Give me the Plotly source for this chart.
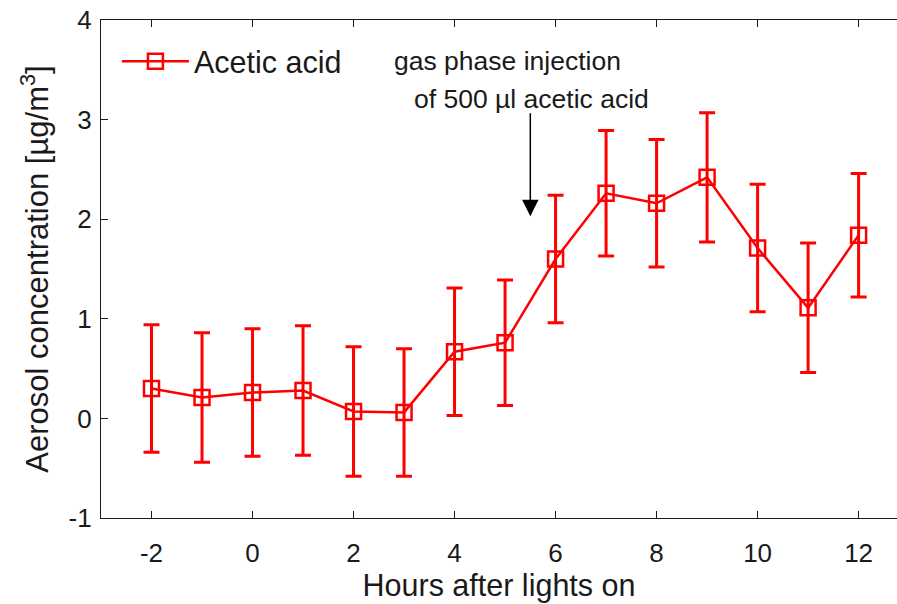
import plotly.graph_objects as go

# Hours after lights on and measured aerosol concentration (µg/m³)
hours = [-2, -1, 0, 1, 2, 3, 4, 5, 6, 7, 8, 9, 10, 11, 12]
acetic = [0.30, 0.21, 0.26, 0.28, 0.07, 0.06, 0.67, 0.76, 1.60, 2.26, 2.16, 2.42, 1.71, 1.11, 1.84]
acetic_err = [0.64, 0.65, 0.64, 0.65, 0.65, 0.64, 0.64, 0.63, 0.64, 0.63, 0.64, 0.65, 0.64, 0.65, 0.62]

x_ticks = [-2, 0, 2, 4, 6, 8, 10, 12]
x_ticktext = ["-2", "0", "2", "4", "6", "8", "10", "12"]
y_ticks = [-1, 0, 1, 2, 3, 4]
y_ticktext = ["-1", "0", "1", "2", "3", "4"]

injection_hour = 5.5

RED = "#ff0000"
INK = "#1a1a1a"
FONT = "Liberation Sans, Arial, sans-serif"

fig = go.Figure()
fig.add_trace(go.Scatter(
    x=hours, y=acetic,
    mode="lines+markers",
    name="Acetic acid",
    line=dict(color=RED, width=2.5),
    marker=dict(symbol="square-open", size=15, color=RED, line=dict(width=2.5, color=RED)),
    error_y=dict(type="data", array=acetic_err, visible=True,
                 color=RED, thickness=3, width=8),
))

# Arrow marking the gas phase injection
fig.add_annotation(
    x=injection_hour, y=2.03, xref="x", yref="y",
    ax=injection_hour, ay=3.08, axref="x", ayref="y",
    showarrow=True, arrowhead=2, arrowsize=2.2, arrowwidth=1.5,
    arrowcolor="black", text="",
)
fig.add_annotation(
    x=5.05, y=3.59, xref="x", yref="y", showarrow=False,
    text="gas phase injection", font=dict(family=FONT, size=26.5, color=INK),
    xanchor="center", yanchor="middle",
)
fig.add_annotation(
    x=5.53, y=3.21, xref="x", yref="y", showarrow=False,
    text="of 500 µl acetic acid", font=dict(family=FONT, size=26.5, color=INK),
    xanchor="center", yanchor="middle",
)

axis_common = dict(
    showline=True, linecolor=INK, linewidth=1.2,
    ticks="inside", ticklen=7, tickcolor=INK, tickwidth=1.2,
    showgrid=False, zeroline=False,
    tickfont=dict(family=FONT, size=26, color=INK),
)

fig.update_layout(
    width=897, height=604,
    margin=dict(l=101, r=0, t=20, b=86),
    paper_bgcolor="white", plot_bgcolor="white",
    font=dict(family=FONT, color=INK),
    showlegend=True,
    legend=dict(
        x=0.02, y=0.97, xanchor="left", yanchor="top",
        bgcolor="rgba(0,0,0,0)", borderwidth=0,
        font=dict(family=FONT, size=30.5, color=INK),
        itemwidth=67,
    ),
    xaxis=dict(
        range=[-3, 12.76], tickvals=x_ticks, ticktext=x_ticktext, mirror="ticks",
        ticklabelstandoff=12,
        title=dict(text="Hours after lights on", font=dict(family=FONT, size=30.5, color=INK), standoff=4),
        **axis_common,
    ),
    yaxis=dict(
        range=[-1, 4], tickvals=y_ticks, ticktext=y_ticktext, mirror=False,
        ticklabelstandoff=3,
        title=dict(text="Aerosol concentration [µg/m<sup>3</sup>]",
                   font=dict(family=FONT, size=31, color=INK), standoff=10),
        **axis_common,
    ),
)

fig.write_html("out.html")
